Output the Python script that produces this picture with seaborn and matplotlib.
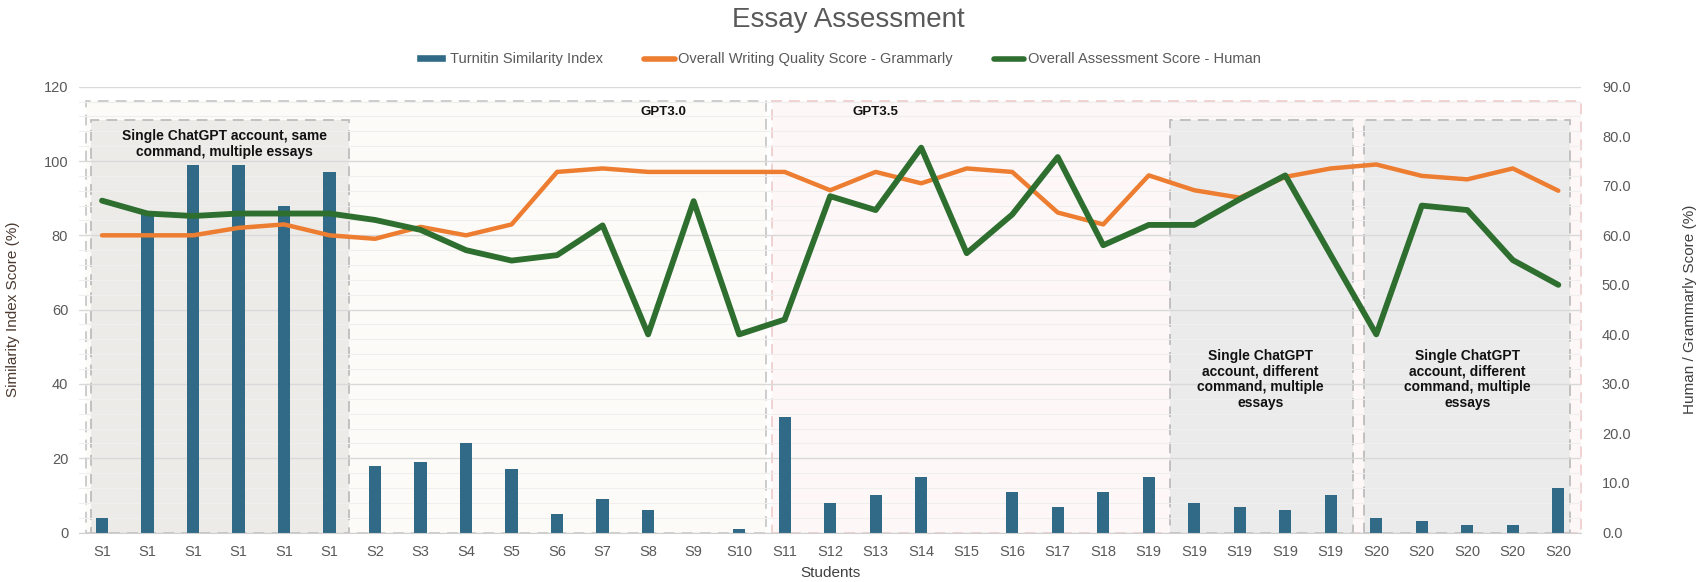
import numpy as np
import pandas as pd
import seaborn as sns
import matplotlib.pyplot as plt
from matplotlib.patches import Rectangle
from matplotlib.lines import Line2D
from matplotlib.patches import Patch

# Chart data
students = ['S1', 'S1', 'S1', 'S1', 'S1', 'S1', 'S2', 'S3', 'S4', 'S5', 'S6', 'S7', 'S8', 'S9', 'S10',
            'S11', 'S12', 'S13', 'S14', 'S15', 'S16', 'S17', 'S18', 'S19', 'S19', 'S19', 'S19', 'S19',
            'S20', 'S20', 'S20', 'S20', 'S20']
similarity = [4, 86, 99, 99, 88, 97, 18, 19, 24, 17, 5, 9, 6, 0, 1,
              31, 8, 10, 15, 0, 11, 7, 11, 15, 8, 7, 6, 10,
              4, 3, 2, 2, 12]
grammarly = [60, 60, 60, 61.5, 62.2, 60, 59.3, 61.7, 60, 62.2, 72.8, 73.5, 72.8, 72.8, 72.8,
             72.8, 69.1, 72.8, 70.5, 73.5, 72.8, 64.6, 62.2, 72.1, 69.1, 67.6, 71.8, 73.5,
             74.3, 72, 71.3, 73.5, 69]
human = [67, 64.4, 63.9, 64.4, 64.4, 64.4, 63.1, 61.1, 57, 54.9, 56, 62, 40, 66.9, 40,
         43, 67.9, 65.1, 77.7, 56.4, 64.2, 75.8, 58, 62.1, 62.1, 67.3, 72.1, 56,
         40, 66, 65.1, 55, 50]

df = pd.DataFrame({'pos': range(len(students)), 'student': students,
                   'similarity': similarity, 'grammarly': grammarly, 'human': human})

bar_col = '#306a87'
orange = '#ed7d31'
green = '#2e6f30'
txt_gray = '#595959'

sns.set_style('white')
plt.rcParams['font.family'] = ['Liberation Sans', 'DejaVu Sans']

fig = plt.figure(figsize=(16.97, 5.82), dpi=100)
ax = fig.add_axes([0.0467, 0.085, 0.885, 0.766])

# shaded regions (x in category units, y in left-axis units)
regions = [
    (-0.35, 14.58, 116.2, '#fcfbf7', '#c9c9c9'),   # GPT3.0
    (14.73, 32.5, 116.2, '#fdf8f7', '#efcfcf'),    # GPT3.5
    (-0.25, 5.42, 111, '#ecebe8', '#bdbdbd'),
    (23.46, 27.49, 111, '#ecebeb', '#bdbdbd'),
    (27.72, 32.25, 111, '#ecebeb', '#bdbdbd'),
]
for x0, x1, top, fc, ec in regions:
    ax.add_patch(Rectangle((x0, 0), x1 - x0, top, facecolor=fc, edgecolor=ec,
                           linestyle=(0, (6, 4)), linewidth=1.3, zorder=0.2, clip_on=False))

sns.barplot(data=df, x='pos', y='similarity', color=bar_col, saturation=1,
            width=0.27, ax=ax, zorder=2, linewidth=0, edgecolor='none')

ax.set_ylim(0, 120)
ax.set_xlim(-0.5, 32.5)
ax.set_yticks(np.arange(0, 121, 20))
ax.set_yticks(np.arange(0, 121, 4), minor=True)
ax.grid(axis='y', which='major', color='#d9d9d9', linewidth=1)
ax.grid(axis='y', which='minor', color='#efefef', linewidth=0.8)
ax.grid(axis='x', which='both', visible=False)
ax.set_axisbelow(True)
ax.set_xticks(range(len(students)), labels=students)
ax.set_xticks(np.arange(-0.5, len(students), 1), minor=True)
ax.tick_params(axis='x', which='major', length=0, pad=9, labelsize=10.5, labelcolor=txt_gray)
ax.tick_params(axis='x', which='minor', length=5, color='#d0d0d0', width=1)
ax.tick_params(axis='y', which='both', length=0, pad=8, labelsize=10.5, labelcolor=txt_gray)
for s in ['top', 'left', 'right']:
    ax.spines[s].set_visible(False)
ax.spines['bottom'].set_color('#d0d0d0')
ax.set_xlabel('Students', fontsize=11, color='#404040', labelpad=5)
ax.set_ylabel('Similarity Index Score (%)', fontsize=11, color='#4a3a30')
ax.yaxis.set_label_coords(-0.0394, 0.5)

ax2 = ax.twinx()
sns.lineplot(data=df, x='pos', y='grammarly', color=orange, linewidth=3.2, ax=ax2)
sns.lineplot(data=df, x='pos', y='human', color=green, linewidth=4.2, ax=ax2)
ax2.set_ylim(0, 90)
ax2.set_yticks(np.arange(0, 91, 10), labels=[f'{v:.1f}' for v in np.arange(0, 91, 10)])
ax2.tick_params(axis='y', length=0, pad=15, labelsize=10.5, labelcolor=txt_gray)
ax2.grid(False)
for s in ax2.spines.values():
    s.set_visible(False)
ax2.set_ylabel('Human / Grammarly Score (%)', fontsize=11, color='#404040')
ax2.yaxis.set_label_coords(1.0678, 0.5)
ax2.set_xlim(-0.5, 32.5)

# region annotations
ax.text(2.7, 104.5, 'Single ChatGPT account, same\ncommand, multiple essays', ha='center',
        va='center', fontsize=10, fontweight='bold', color='#111111', linespacing=1.15, zorder=5)
ax.text(12.33, 113.3, 'GPT3.0', ha='center', va='center', fontsize=9.5,
        fontweight='bold', color='#111111', zorder=5)
ax.text(17.0, 113.3, 'GPT3.5', ha='center', va='center', fontsize=9.5,
        fontweight='bold', color='#111111', zorder=5)
for xc in [25.45, 30.0]:
    ax.text(xc, 41.3, 'Single ChatGPT\naccount, different\ncommand, multiple\nessays', ha='center',
            va='center', fontsize=10, fontweight='bold', color='#111111', linespacing=1.15, zorder=5)

fig.text(0.5, 0.966, 'Essay Assessment', ha='center', va='center', fontsize=20, color=txt_gray)

handles = [Patch(facecolor=bar_col),
           Line2D([0], [0], color=orange, linewidth=4),
           Line2D([0], [0], color=green, linewidth=4)]
labels = ['Turnitin Similarity Index', 'Overall Writing Quality Score - Grammarly',
          'Overall Assessment Score - Human']
fig.legend(handles, labels, loc='center', bbox_to_anchor=(0.494, 0.898), ncol=3, frameon=False,
           fontsize=10.5, labelcolor=txt_gray, handlelength=2.1, handleheight=0.5,
           handletextpad=0.25, columnspacing=2.8)

fig.savefig('out.png', dpi=100)
